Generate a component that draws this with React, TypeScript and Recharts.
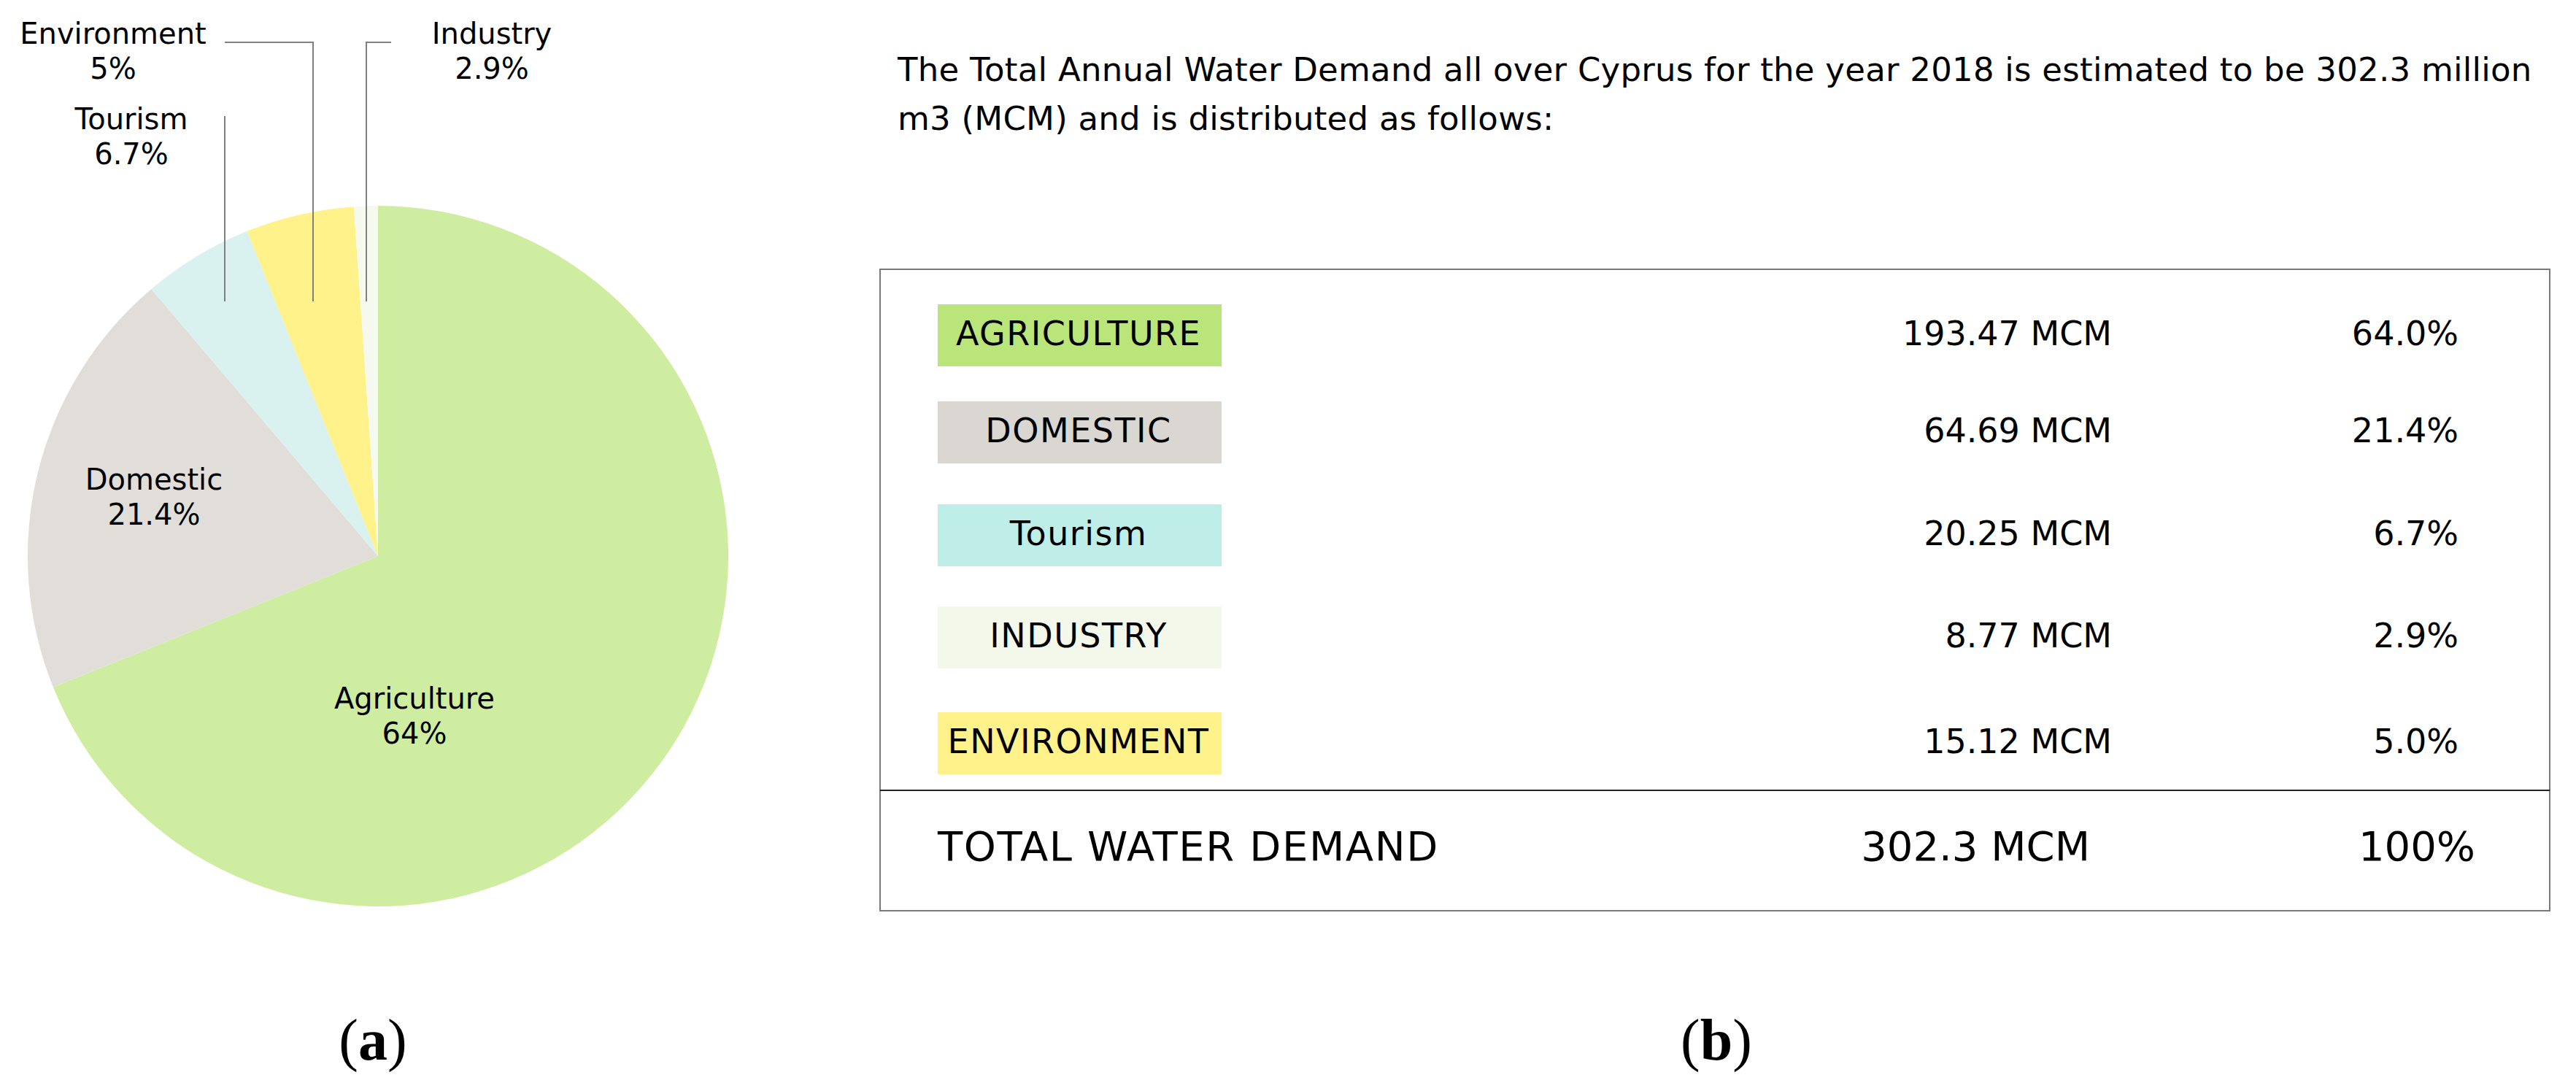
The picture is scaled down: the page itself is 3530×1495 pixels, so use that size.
import { PieChart, Pie, Cell } from 'recharts';

// pie (a): slice sizes as drawn, and the labels printed on them
const sectors = ['Agriculture', 'Domestic', 'Tourism', 'Environment', 'Industry'];
const sliceShares = [68.9, 19.9, 5.1, 5.0, 1.1];
const sliceLabels = ['64%', '21.4%', '6.7%', '5%', '2.9%'];
const sliceColors = ['#cfeda0', '#e1deda', '#daf2ef', '#fff28a', '#f6faee'];

// table (b)
const tableNames = ['AGRICULTURE', 'DOMESTIC', 'Tourism', 'INDUSTRY', 'ENVIRONMENT'];
const tableMcm = ['193.47 MCM', '64.69 MCM', '20.25 MCM', '8.77 MCM', '15.12 MCM'];
const tablePct = ['64.0%', '21.4%', '6.7%', '2.9%', '5.0%'];
const swatchColors = ['#bae57a', '#dad7d3', '#bfede8', '#f3f8ea', '#fff28a'];
const totalRow = ['TOTAL WATER DEMAND', '302.3 MCM', '100%'];
const introLines = [
  'The Total Annual Water Demand all over Cyprus for the year 2018 is estimated to be 302.3 million',
  'm3 (MCM) and is distributed as follows:',
];

const FONT = '"DejaVu Sans", Verdana, sans-serif';

const pieData = sectors.map((name, i) => ({ name, value: sliceShares[i] }));

// label placement (first-line baseline) and leader lines, per slice
const labelPos = [
  { x: 568, y: 971 },
  { x: 211, y: 671 },
  { x: 180, y: 177 },
  { x: 155, y: 60 },
  { x: 674, y: 60 },
];
const leaders: (string | null)[] = [
  null,
  null,
  '308,159 308,413',
  '308,58 429,58 429,413',
  '536,58 502,58 502,413',
];

const rowTops = [417, 550, 691, 831, 976];

const renderLabel = (props: any) => {
  const i = props.index;
  const p = labelPos[i];
  return (
    <g key={`lbl-${i}`}>
      {leaders[i] && (
        <polyline points={leaders[i] as string} fill="none" stroke="#808080" strokeWidth={2} />
      )}
      <text x={p.x} y={p.y} textAnchor="middle" fontSize={40} fill="#000" fontFamily={FONT}>
        {sectors[i]}
      </text>
      <text x={p.x} y={p.y + 48} textAnchor="middle" fontSize={40} fill="#000" fontFamily={FONT}>
        {sliceLabels[i]}
      </text>
    </g>
  );
};

const App = () => {
  return (
    <div style={{ position: 'absolute', left: 0, top: 0, width: 3530, height: 1495, background: '#fff' }}>
      <div style={{ position: 'absolute', left: 0, top: 0 }}>
        <PieChart width={1100} height={1300} margin={{ top: 0, right: 0, bottom: 0, left: 0 }}>
          <Pie
            data={pieData}
            dataKey="value"
            nameKey="name"
            cx={518}
            cy={762}
            outerRadius={480}
            startAngle={90}
            endAngle={-270}
            stroke="none"
            label={renderLabel}
            labelLine={false}
            isAnimationActive={false}
          >
            {pieData.map((d, i) => (
              <Cell key={d.name} fill={sliceColors[i]} />
            ))}
          </Pie>
        </PieChart>
      </div>

      <svg
        width={3530}
        height={1495}
        style={{ position: 'absolute', left: 0, top: 0, pointerEvents: 'none' }}
        fontFamily={FONT}
      >
        {introLines.map((t, i) => (
          <text key={i} x={1230} y={111 + i * 67} fontSize={45} letterSpacing={0.25} fill="#000">
            {t}
          </text>
        ))}

        <rect x={1206} y={369} width={2288} height={879} fill="none" stroke="#7a7a7a" strokeWidth={2} />
        <line x1={1206} x2={3494} y1={1083} y2={1083} stroke="#222" strokeWidth={2} />

        {tableNames.map((name, i) => (
          <g key={name}>
            <rect x={1285} y={rowTops[i]} width={389} height={85} fill={swatchColors[i]} />
            <text x={1478} y={rowTops[i] + 56} textAnchor="middle" fontSize={46} letterSpacing={1.5} fill="#000">
              {name}
            </text>
            <text x={2894} y={rowTops[i] + 56} textAnchor="end" fontSize={46} fill="#000">
              {tableMcm[i]}
            </text>
            <text x={3369} y={rowTops[i] + 56} textAnchor="end" fontSize={46} fill="#000">
              {tablePct[i]}
            </text>
          </g>
        ))}

        <text x={1285} y={1179} fontSize={56} letterSpacing={1.6} fill="#000">{totalRow[0]}</text>
        <text x={2864} y={1179} textAnchor="end" fontSize={56} fill="#000">{totalRow[1]}</text>
        <text x={3392} y={1179} textAnchor="end" fontSize={56} fill="#000">{totalRow[2]}</text>

        <text x={511} y={1452} textAnchor="middle" fontSize={80} fontFamily='"Liberation Serif", serif' fill="#000">
          (<tspan fontWeight="bold">a</tspan>)
        </text>
        <text x={2352} y={1452} textAnchor="middle" fontSize={80} fontFamily='"Liberation Serif", serif' fill="#000">
          (<tspan fontWeight="bold">b</tspan>)
        </text>
      </svg>
    </div>
  );
};

export default App;
